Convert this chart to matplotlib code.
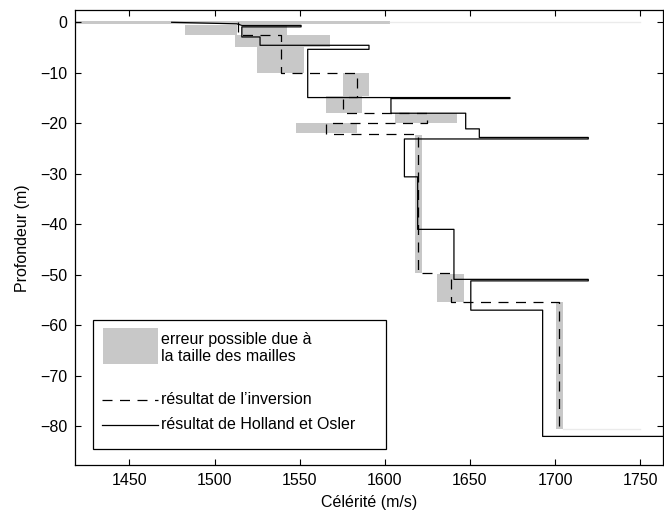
import matplotlib
matplotlib.use("Agg")
import matplotlib.pyplot as plt
from matplotlib.patches import Rectangle

plt.rcParams['font.family'] = ['Liberation Sans', 'DejaVu Sans']
plt.rcParams['font.size'] = 11.5

# Holland et Osler profile (step curve vertices)
holland_c = [1474.8, 1513.0, 1516.0, 1550.8, 1550.8, 1516.0, 1516.0, 1526.7, 1526.7,
             1590.7, 1590.7, 1554.7, 1554.7, 1673.5, 1673.5, 1603.6, 1603.6, 1647.5,
             1647.5, 1655.5, 1655.5, 1719.5, 1719.5, 1611.5, 1611.5, 1619.3, 1619.3,
             1640.6, 1640.6, 1719.5, 1719.5, 1650.5, 1650.5, 1692.7, 1692.7, 1775.0]
holland_z = [0.0, -0.3, -0.6, -0.6, -0.9, -0.9, -2.9, -2.9, -4.55,
             -4.55, -5.35, -5.35, -14.9, -14.9, -15.1, -15.1, -18.0, -18.0,
             -21.1, -21.1, -22.8, -22.8, -23.1, -23.1, -30.6, -30.6, -41.0,
             -41.0, -50.9, -50.9, -51.2, -51.2, -57.0, -57.0, -82.0, -82.0]

# inversion result
inv_c = [1514.0, 1514.0, 1538.9, 1538.9, 1583.5, 1583.5, 1575.6, 1575.6, 1624.6,
         1624.6, 1565.5, 1565.5, 1619.7, 1619.7, 1638.7, 1638.7, 1702.5, 1702.5]
inv_z = [0.0, -2.57, -2.57, -10.04, -10.04, -14.85, -14.85, -18.02, -18.02,
         -19.88, -19.88, -22.12, -22.12, -49.7, -49.7, -55.33, -55.33, -80.48]

# error boxes (grid size)
err_c_lo = [1410.0, 1482.7, 1516.0, 1512.0, 1524.8, 1575.6, 1565.5, 1606.0, 1547.9, 1617.5, 1630.5, 1700.6]
err_c_hi = [1603.0, 1513.0, 1542.4, 1567.8, 1552.5, 1590.7, 1586.4, 1642.2, 1583.5, 1621.7, 1646.5, 1704.5]
err_z_top = [0.3, -0.59, -0.59, -2.57, -4.89, -10.1, -14.59, -18.02, -20.0, -22.3, -49.84, -55.33]
err_z_bot = [-0.35, -2.57, -2.57, -4.89, -10.04, -14.59, -18.02, -20.0, -21.98, -49.7, -55.33, -80.48]

gray = '#c8c8c8'

fig = plt.figure(figsize=(6.64, 5.17), dpi=100)
ax = fig.add_axes([0.1137, 0.1006, 0.8848, 0.8791])

for c0, c1, z0, z1 in zip(err_c_lo, err_c_hi, err_z_top, err_z_bot):
    ax.add_patch(Rectangle((c0, z1), c1 - c0, z0 - z1, facecolor=gray, edgecolor='none', zorder=1))

# faint continuations
ax.plot([1603.0, 1750.0], [0.0, 0.0], color='#ebebeb', lw=1, zorder=1)
ax.plot([1704.5, 1750.0], [-80.48, -80.48], color='#ebebeb', lw=1, zorder=1)

ax.plot(holland_c, holland_z, color='black', lw=0.9, zorder=3)
ax.plot(inv_c, inv_z, color='black', lw=0.9, linestyle=(0, (8, 6)), zorder=3)

ax.set_xlim(1418.3, 1763.4)
ax.set_ylim(-87.66, 2.34)
ax.set_xticks([1450, 1500, 1550, 1600, 1650, 1700, 1750])
ax.set_yticks([0, -10, -20, -30, -40, -50, -60, -70, -80])
ax.tick_params(direction='in', top=True, right=True, length=4, width=0.8, labelsize=11.5, pad=6)
for s in ax.spines.values():
    s.set_linewidth(0.9)

ax.set_xlabel('Célérité (m/s)', fontsize=11.5, labelpad=5)
ax.set_ylabel('Profondeur (m)', fontsize=11.5)
ax.yaxis.set_label_coords(-0.0775, 0.5)

# custom legend
ax.add_patch(Rectangle((0.0294, 0.0352), 0.4984, 0.2838, transform=ax.transAxes,
                       facecolor='white', edgecolor='black', lw=0.9, zorder=5))
ax.add_patch(Rectangle((0.0463, 0.2222), 0.0936, 0.0786, transform=ax.transAxes,
                       facecolor=gray, edgecolor='none', zorder=6))
ax.text(0.1455, 0.2574, 'erreur possible due à\nla taille des mailles', transform=ax.transAxes,
        va='center', ha='left', fontsize=11.5, linespacing=1.1, zorder=6)
ax.plot([0.0446, 0.1404], [0.143, 0.143], transform=ax.transAxes, color='black', lw=0.9,
        linestyle=(0, (8, 6)), zorder=6)
ax.text(0.1455, 0.143, 'résultat de l\u2019inversion', transform=ax.transAxes,
        va='center', ha='left', fontsize=11.5, zorder=6)
ax.plot([0.0446, 0.1404], [0.088, 0.088], transform=ax.transAxes, color='black', lw=0.9, zorder=6)
ax.text(0.1455, 0.088, 'résultat de Holland et Osler', transform=ax.transAxes,
        va='center', ha='left', fontsize=11.5, zorder=6)

fig.savefig('out.png', dpi=100)
